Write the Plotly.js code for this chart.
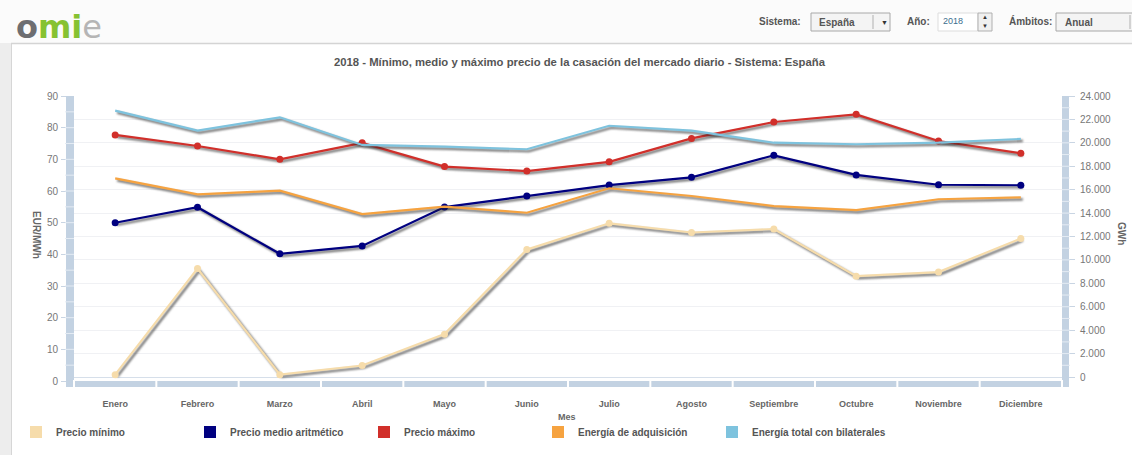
<!DOCTYPE html>
<html><head><meta charset="utf-8">
<script src="https://cdn.plot.ly/plotly-3.0.1.min.js"></script>
<style>
html,body{margin:0;padding:0;background:#fff;}
#chart{width:1132px;height:455px;}
.scatterlayer .js-line{filter:drop-shadow(2px 2.5px 1px rgba(35,35,35,0.7));}
</style></head><body><div id="chart"></div>
<script>
// ---- data ----
const meses = ['Enero','Febrero','Marzo','Abril','Mayo','Junio','Julio','Agosto','Septiembre','Octubre','Noviembre','Diciembre'];
const precioMinimo = [2.0, 35.5, 2.0, 4.9, 14.8, 41.5, 49.8, 46.9, 48.0, 33.1, 34.4, 45.0];
const precioMedio = [49.98, 54.88, 40.18, 42.67, 54.92, 58.46, 61.88, 64.33, 71.27, 65.08, 61.97, 61.81];
const precioMaximo = [77.7, 74.2, 70.0, 75.2, 67.7, 66.3, 69.2, 76.6, 81.8, 84.2, 75.8, 71.9];
const energiaAdquisicion = [16970, 15600, 15910, 13920, 14550, 14030, 16120, 15460, 14600, 14260, 15180, 15350];
const energiaBilaterales = [22750, 21040, 22180, 19820, 19670, 19450, 21460, 21040, 20010, 19880, 20010, 20330];
const nombres = ['Precio mínimo','Precio medio aritmético','Precio máximo','Energía de adquisición','Energía total con bilaterales'];
const colores = ['#f6dcab','#000080','#d12f2a','#f6a340','#7ec3de'];
const titulo = '2018 - Mínimo, medio y máximo precio de la casación del mercado diario - Sistema: España';

// ---- geometry helpers (pixel -> paper) ----
const L=74, R=1062, T=96, B=381, W=R-L, H=B-T;
const px = x => (x-L)/W, py = y => (B-y)/H;
const FONT = 'Liberation Sans, Arial, sans-serif';
const band = '#c3d2e2';

const traces = [];
// energy lines (right axis)
[[energiaAdquisicion,3],[energiaBilaterales,4]].forEach(([v,i])=>{
  traces.push({type:'scatter',mode:'lines',x:meses,y:v,yaxis:'y2',name:nombres[i],
    line:{color:colores[i],width:2.2},showlegend:false,hoverinfo:'x+y'});
});
// price lines (left axis)
[[precioMinimo,0],[precioMedio,1],[precioMaximo,2]].forEach(([v,i])=>{
  traces.push({type:'scatter',mode:'lines+markers',x:meses,y:v,yaxis:'y',name:nombres[i],
    line:{color:colores[i],width:2.2},marker:{color:colores[i],size:7},showlegend:false,hoverinfo:'x+y'});
});
// legend entries (square swatches)
nombres.forEach((n,i)=>{
  traces.push({type:'bar',x:[meses[0]],y:[null],name:n,marker:{color:colores[i],line:{width:0}},showlegend:true,hoverinfo:'skip'});
});

const shapes = [];
const annotations = [];
// page frame
shapes.push({type:'rect',xref:'paper',yref:'paper',x0:px(0),x1:px(1132),y0:py(43),y1:py(0),fillcolor:'#fbfbfb',line:{width:0},layer:'below'});
shapes.push({type:'rect',xref:'paper',yref:'paper',x0:px(0),x1:px(11),y0:py(455),y1:py(43),fillcolor:'#ededed',line:{width:0},layer:'below'});
shapes.push({type:'line',xref:'paper',yref:'paper',x0:px(11.5),x1:px(11.5),y0:py(455),y1:py(43),line:{color:'#d6d6d6',width:1},layer:'below'});
shapes.push({type:'line',xref:'paper',yref:'paper',x0:px(11),x1:px(1132),y0:py(43.5),y1:py(43.5),line:{color:'#d4d4d4',width:1.5},layer:'below'});
// band separators
for(let k=0;k<=12;k++){
  const xx = L + k*W/12;
  shapes.push({type:'line',xref:'paper',yref:'paper',x0:px(xx),x1:px(xx),y0:py(380),y1:py(389),line:{color:'#ffffff',width:2},layer:'above'});
}
for(let v=5; v<90; v+=5){
  shapes.push({type:'line',xref:'paper',yref:'y',x0:px(65),x1:px(74),y0:v,y1:v,line:{color:'#e4ebf3',width:1},layer:'above'});
}
for(let v=1000; v<24000; v+=1000){
  shapes.push({type:'line',xref:'paper',yref:'y2',x0:px(1062),x1:px(1070),y0:v,y1:v,line:{color:'#e4ebf3',width:1},layer:'above'});
}
// header controls
function box(x0,x1,y0,y1,fill,stroke){shapes.push({type:'rect',xref:'paper',yref:'paper',x0:px(x0),x1:px(x1),y0:py(y1),y1:py(y0),fillcolor:fill,line:{color:stroke,width:1},layer:'below'});}
function vline(x,y0,y1,c){shapes.push({type:'line',xref:'paper',yref:'paper',x0:px(x),x1:px(x),y0:py(y1),y1:py(y0),line:{color:c,width:1},layer:'below'});}
function txt(t,x,y,opt){annotations.push(Object.assign({text:t,xref:'paper',yref:'paper',x:px(x),y:py(y),showarrow:false,xanchor:'left',yanchor:'middle',
  font:{family:FONT,size:10,color:'#555',weight:'bold'}},opt||{}));}
box(811,890,13,31,'#f4f4f4','#a8a8a8'); vline(873,15,29,'#b0b0b0');
box(938,978,13,31,'#ffffff','#dddddd'); box(978,992,13,31,'#f0f0f0','#b0b0b0');
box(1056,1140,13,31,'#f4f4f4','#a8a8a8'); vline(1130,15,29,'#b0b0b0');
txt('Sistema:',757,21); txt('España',817,22); txt('▼',879,22,{font:{family:FONT,size:7,color:'#333'}});
txt('Año:',905,21); txt('2018',941,21,{font:{family:FONT,size:9,color:'#3c6e8e'}});
txt('▲',980,17,{font:{family:FONT,size:6,color:'#333'}}); txt('▼',980,26,{font:{family:FONT,size:6,color:'#333'}});
txt('Ámbitos:',1007,21); txt('Anual',1063,22);
// logo
annotations.push({text:'<span style="color:#6d6e71">o</span><span style="color:#86c232">m</span><span style="color:#86c232">i</span><span style="color:#b5b5b5;font-weight:normal">e</span>',
  xref:'paper',yref:'paper',x:px(14),y:py(27),xanchor:'left',yanchor:'middle',showarrow:false,
  font:{family:'DejaVu Sans, sans-serif',size:32,weight:'bold',color:'#6d6e71'}});
// axis titles
txt('EUR/MWh',37,235,{xanchor:'center',textangle:90,font:{family:FONT,size:10,color:'#666',weight:'bold'}});
txt('GWh',1122,233,{xanchor:'center',textangle:90,font:{family:FONT,size:10,color:'#666',weight:'bold'}});
txt('Mes',567,417,{xanchor:'center',font:{family:FONT,size:9,color:'#666',weight:'bold'}});

const layout = {
  width:1132, height:455,
  margin:{l:L, r:1132-R, t:T, b:455-B, pad:0},
  paper_bgcolor:'#ffffff', plot_bgcolor:'#ffffff',
  separators:',.',
  font:{family:FONT,size:10,color:'#666'},
  title:{text:titulo, xref:'container', yref:'container', x:579.5/1132, y:1-62/455, xanchor:'center', yanchor:'middle',
    font:{family:FONT,size:11.3,color:'#555',weight:'bold'}},
  showlegend:true,
  legend:{orientation:'h', xref:'container', yref:'container', x:16/1132, y:1-432/455, xanchor:'left', yanchor:'middle',
    entrywidth:129, entrywidthmode:'pixels', traceorder:'normal', bgcolor:'rgba(0,0,0,0)', borderwidth:0,
    font:{family:FONT,size:10,color:'#555',weight:'bold'}},
  xaxis:{type:'category', range:[-0.5,11.5], showline:true, linecolor:band, linewidth:6, showgrid:false, zeroline:false,
    ticks:'', ticklabelstandoff:9, tickfont:{family:FONT,size:9,color:'#666',weight:'bold'}, fixedrange:true},
  yaxis:{range:[0,90], dtick:10, tick0:0, showline:true, linecolor:band, linewidth:8, showgrid:false, zeroline:false,
    ticks:'outside', ticklen:5, tickcolor:'#c9d5e3', ticklabelstandoff:1, tickfont:{family:FONT,size:10,color:'#777'}},
  yaxis2:{overlaying:'y', side:'right', range:[-341.6,24000], tick0:0, dtick:2000, tickformat:',d',
    showline:true, linecolor:band, linewidth:7, showgrid:true, gridcolor:'#f0f1f4', zeroline:true, zerolinecolor:'#d6dfea', zerolinewidth:1,
    ticks:'outside', ticklen:6, tickcolor:'#c9d5e3', ticklabelstandoff:3, tickfont:{family:FONT,size:10,color:'#777'}},
  shapes:shapes, annotations:annotations,
  barmode:'group'
};
Plotly.newPlot('chart', traces, layout, {displayModeBar:false});
</script></body></html>
